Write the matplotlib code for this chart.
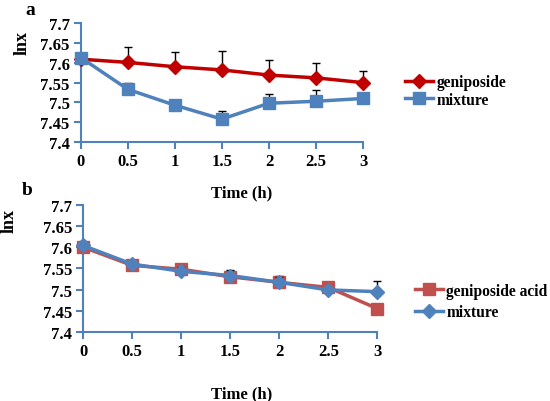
import numpy as np
import matplotlib.pyplot as plt

plt.rcParams['font.family'] = ['Liberation Serif', 'DejaVu Serif']
plt.rcParams['font.weight'] = 'bold'

time_h = [0, 0.5, 1, 1.5, 2, 2.5, 3]
ticks_y = [7.4, 7.45, 7.5, 7.55, 7.6, 7.65, 7.7]

# panel a
gen_a = [7.609, 7.601, 7.590, 7.582, 7.569, 7.562, 7.550]
gen_a_err = [0.0, 0.039, 0.038, 0.047, 0.039, 0.038, 0.030]
mix_a = [7.613, 7.533, 7.493, 7.458, 7.498, 7.503, 7.510]
mix_a_err = [0.0, 0.015, 0.0, 0.021, 0.023, 0.029, 0.015]

# panel b
acid_b = [7.600, 7.557, 7.548, 7.530, 7.517, 7.505, 7.455]
acid_b_err = [0.0, 0.005, 0.010, 0.012, 0.014, 0.004, 0.010]
mix_b = [7.604, 7.560, 7.543, 7.533, 7.517, 7.499, 7.495]
mix_b_err = [0.0, 0.004, 0.010, 0.012, 0.012, 0.005, 0.024]

axis_blue = '#4F81BD'


def style_axis(ax):
    for s in ['top', 'right']:
        ax.spines[s].set_visible(False)
    for s in ['left', 'bottom']:
        ax.spines[s].set_color(axis_blue)
        ax.spines[s].set_linewidth(1.5)
    ax.tick_params(direction='out', color=axis_blue, width=1.5, length=5,
                   labelsize=12, pad=3)
    ax.set_xlim(0, 3)
    ax.set_ylim(7.4, 7.7)
    ax.set_xticks(time_h)
    ax.set_xticklabels(['0', '0.5', '1', '1.5', '2', '2.5', '3'])
    ax.set_yticks(ticks_y)
    ax.set_yticklabels(['7.4', '7.45', '7.5', '7.55', '7.6', '7.65', '7.7'])
    for lab in ax.get_xticklabels() + ax.get_yticklabels():
        lab.set_fontweight('bold')


def series(ax, y, err, color, marker, ms, label, z):
    _, caps, bars = ax.errorbar(time_h, y, yerr=[np.zeros(len(err)), err], fmt='none',
                                ecolor='black', elinewidth=1, capsize=3, capthick=1,
                                zorder=z - 1)
    for c in caps:
        c.set_clip_on(False)
    for b in bars:
        b.set_clip_on(False)
    ax.plot(time_h, y, color=color, lw=2.5, marker=marker, ms=ms,
            label=label, zorder=z, clip_on=False)


def add_legend(ax, x, y, spacing):
    ax.legend(loc='center left', bbox_to_anchor=(x, y), frameon=False,
              prop={'weight': 'bold', 'size': 11.2}, handlelength=1.8,
              handletextpad=0.2, labelspacing=spacing, borderpad=0,
              borderaxespad=0)


fig = plt.figure(figsize=(5.5, 4.02), dpi=100)

ax1 = fig.add_axes([0.147, 0.644, 0.513, 0.296])
series(ax1, gen_a, gen_a_err, '#C00000', 'D', 7, 'geniposide', 4)
series(ax1, mix_a, mix_a_err, '#4F81BD', 's', 9, 'mixture', 5)
style_axis(ax1)
add_legend(ax1, 1.149, 0.43, 0.1)
fig.text(0.04, 0.893, 'lnx', rotation=90, ha='center', va='center',
         fontsize=13, fontweight='bold')
fig.text(0.44, 0.52, 'Time (h)', ha='center', va='center',
         fontsize=12, fontweight='bold')
fig.text(0.055, 0.975, 'a', ha='center', va='center', fontsize=14, fontweight='bold')

ax2 = fig.add_axes([0.151, 0.172, 0.535, 0.316])
series(ax2, acid_b, acid_b_err, '#C0504D', 's', 9, 'geniposide acid', 4)
series(ax2, mix_b, mix_b_err, '#4F81BD', 'D', 7, 'mixture', 5)
style_axis(ax2)
add_legend(ax2, 1.129, 0.24, 0.35)
fig.text(0.016, 0.45, 'lnx', rotation=90, ha='center', va='center',
         fontsize=13, fontweight='bold')
fig.text(0.44, 0.02, 'Time (h)', ha='center', va='center',
         fontsize=12, fontweight='bold')
fig.text(0.05, 0.525, 'b', ha='center', va='center', fontsize=14, fontweight='bold')

fig.savefig('out.png', dpi=100)
